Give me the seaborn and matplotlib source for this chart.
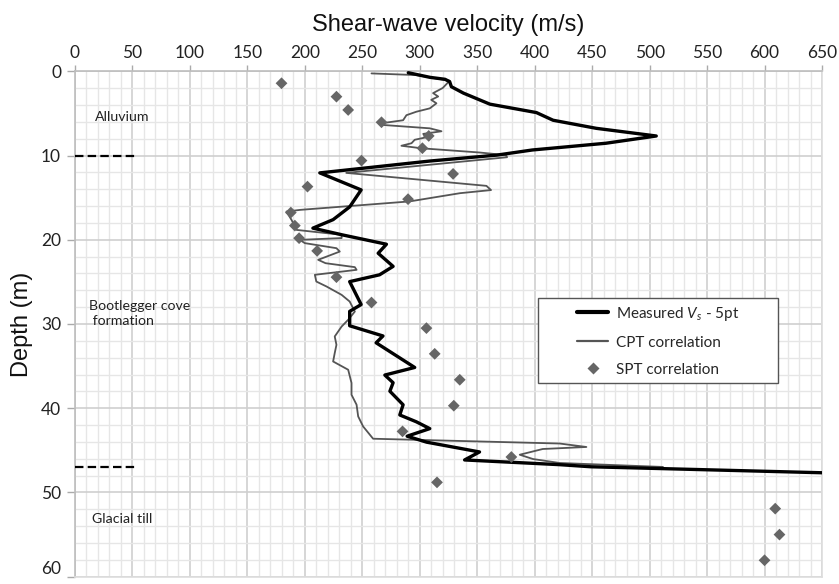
import matplotlib
matplotlib.use("Agg")
import matplotlib.pyplot as plt
from matplotlib.ticker import MultipleLocator
from matplotlib.lines import Line2D
from matplotlib.patches import Rectangle
import seaborn as sns
import pandas as pd

# ---------------- data ----------------
meas_vs = [290, 309, 322, 326, 327.5, 338, 361, 401.5, 416, 453.6, 505.8, 462, 398, 367,
           309, 213, 249, 239, 224.6, 207, 233, 271, 263.8, 276.8, 265, 239, 249, 239,
           239, 268, 262, 295.6, 269.6, 276.8, 274, 285.5, 282.6, 297, 308.7, 289, 306,
           352, 339, 421.7, 449, 650]
meas_depth = [0.17, 0.72, 0.95, 1.23, 1.83, 2.59, 3.9, 4.9, 5.81, 6.77, 7.68, 8.54, 9.34, 9.95,
              10.65, 12.06, 14.08, 16.1, 17.61, 18.62, 19.43, 20.53, 21.6, 23.16, 24.16, 24.97,
              27.69, 28.5, 30.21, 31.42, 32.23, 35.16, 36.06, 36.97, 37.98, 39.59, 40.8, 41.61,
              42.42, 43.32, 44.03, 45.19, 46.14, 46.7, 46.95, 47.66]

cpt_vs = [258, 297, 326, 320, 311.6, 316, 310, 314.5, 308.7, 297, 288.4, 285.5, 266.7, 268,
          308.7, 318.9, 303, 305.8, 295.6, 292.8, 284, 301.5, 352, 375, 376, 236, 358, 362,
          335, 291, 196, 184, 188.4, 192.8, 232, 232, 195.6, 200, 227.5, 230.4, 211.6, 218,
          243.5, 245, 208.7, 210, 218.9, 232, 239, 243.5, 237.7, 232, 226, 227.5, 226, 224.6,
          237.7, 240.6, 240.6, 245, 246.4, 250.7, 259.4, 421.7, 445, 407, 387, 398.5, 421.7,
          511.6]
cpt_depth = [0.25, 0.45, 1.12, 1.98, 2.59, 2.99, 3.39, 3.8, 4.4, 4.8, 5.21, 5.81, 6.17, 6.37,
             6.77, 7.12, 7.43, 7.83, 8.13, 8.54, 8.84, 9.14, 9.64, 9.95, 10.2, 12.06, 13.6, 14.1,
             14.47, 15.45, 16.45, 16.65, 17.64, 18.83, 19.41, 19.8, 20.01, 20.4, 21.0, 21.4,
             22.38, 22.78, 23.25, 23.57, 24.16, 24.96, 25.55, 26.54, 27.33, 28.52, 29.5, 30.3,
             31.48, 32.47, 33.45, 34.45, 35.43, 37.0, 38.4, 39.58, 40.97, 42.16, 43.62, 44.19,
             44.6, 44.84, 45.52, 46.03, 46.5, 46.97]

spt_vs = [179.7, 227.5, 237.7, 266.7, 307.8, 302.3, 249.3, 329, 202.3, 289.8, 187.8, 191.3,
          195, 210.7, 227.5, 258, 305.8, 313, 334.8, 329.6, 285, 379.7, 315, 609.3, 613, 600]
spt_depth = [1.42, 3.01, 4.59, 6.05, 7.67, 9.13, 10.6, 12.18, 13.69, 15.18, 16.77, 18.32,
             19.81, 21.32, 24.44, 27.45, 30.49, 33.54, 36.62, 39.7, 42.75, 45.79, 48.8,
             51.92, 55.0, 58.05]

layer_bounds = [10, 47]
layer_names = ["Alluvium", "Bootlegger cove\n formation", "Glacial till"]
layer_label_pos = [(17, 5.4), (12, 28.8), (15, 53.1)]

x_ticks = list(range(0, 651, 50))
y_ticks = list(range(0, 61, 10))

# ---------------- style ----------------
sns.set_theme(style="white")
plt.rcParams["font.family"] = ["Lato", "DejaVu Sans"]
plt.rcParams["mathtext.fontset"] = "custom"
plt.rcParams["mathtext.rm"] = "Lato"
plt.rcParams["mathtext.it"] = "Lato:italic"

fig = plt.figure(figsize=(8.39, 5.84), dpi=100)
ax = fig.add_axes([75 / 839, 1 - 576.7 / 584, 747 / 839, 505.4 / 584])

meas_df = pd.DataFrame({"vs": meas_vs, "depth": meas_depth})
cpt_df = pd.DataFrame({"vs": cpt_vs, "depth": cpt_depth})
spt_df = pd.DataFrame({"vs": spt_vs, "depth": spt_depth})

sns.lineplot(data=cpt_df, x="vs", y="depth", sort=False, estimator=None,
             color="#555555", lw=1.3, ax=ax, zorder=3)
sns.lineplot(data=meas_df, x="vs", y="depth", sort=False, estimator=None,
             color="black", lw=2.4, ax=ax, zorder=4)
sns.scatterplot(data=spt_df, x="vs", y="depth", marker="D", s=36, color="#666666",
                edgecolor="none", ax=ax, zorder=5)

for b in layer_bounds:
    ax.plot([0, 53], [b, b], color="black", lw=1.6, dashes=(3.8, 1.9), zorder=4)

for name, (xp, yp) in zip(layer_names, layer_label_pos):
    ax.text(xp, yp, name, fontsize=10.2, color="#222222", va="center", ha="left",
            linespacing=1.3)

ax.set_xlim(0, 650)
ax.set_ylim(60, 0)
ax.xaxis.tick_top()
ax.xaxis.set_label_position("top")
ax.set_xticks(x_ticks)
ax.set_yticks(y_ticks)
ax.xaxis.set_minor_locator(MultipleLocator(10))
ax.yaxis.set_minor_locator(MultipleLocator(2))
ax.grid(which="minor", color="#e6e6e6", lw=1.0, zorder=0)
ax.grid(which="major", color="#cfcfcf", lw=1.2, zorder=1)
ax.set_axisbelow(True)

ax.tick_params(axis="x", which="major", top=True, bottom=False, length=4, width=1,
               color="#aaaaaa", pad=3.5, labelsize=12.5, labelcolor="#222222")
ax.tick_params(axis="y", which="major", left=True, length=6, width=1,
               color="#aaaaaa", pad=4, labelsize=12.5, labelcolor="#222222")
ax.tick_params(which="minor", length=0)
# keep the bottom "60" label inside the image
ax.get_yticklabels()[-1].set_va("bottom")

for side, sp in ax.spines.items():
    sp.set_color("#bdbdbd" if side in ("top", "left") else "#dddddd")
    sp.set_linewidth(1.2)

ax.set_xlabel("Shear-wave velocity (m/s)", fontsize=17, family="Liberation Sans",
              labelpad=10, color="#111111")
ax.set_ylabel("Depth (m)", fontsize=17, family="Liberation Sans", labelpad=6,
              color="#111111")

# legend frame drawn as a rectangle, legend content centred inside it
x0, x1 = 0.620, 0.9415
y0, y1 = 0.3827, 0.5508
ax.add_patch(Rectangle((x0, y0), x1 - x0, y1 - y0, transform=ax.transAxes,
                       facecolor="white", edgecolor="#555555", lw=1.0, zorder=9))
handles = [
    Line2D([], [], color="black", lw=3),
    Line2D([], [], color="#555555", lw=1.6),
    Line2D([], [], color="#666666", marker="D", ls="none", markersize=6,
           markeredgecolor="none"),
]
labels = [r"Measured $V_s$ - 5pt", "CPT correlation", "SPT correlation"]
leg = ax.legend(handles, labels, loc="center",
                bbox_to_anchor=((x0 + x1) / 2, (y0 + y1) / 2),
                fontsize=11, frameon=False, handlelength=2.0, labelspacing=0.85,
                borderpad=0.0, handletextpad=0.5, borderaxespad=0)
leg.set_zorder(10)

fig.savefig("out.png", dpi=100)
